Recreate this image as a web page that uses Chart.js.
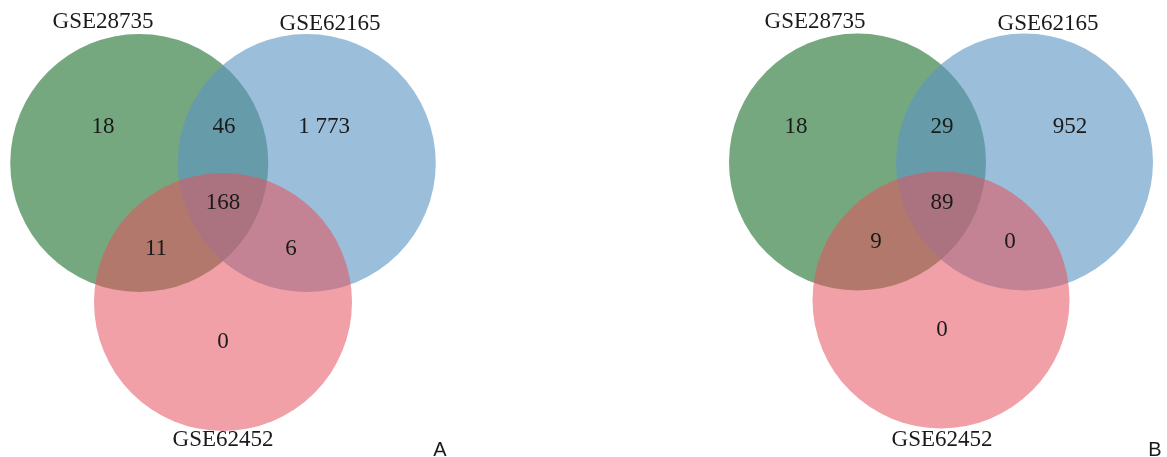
<!DOCTYPE html>
<html>
<head>
<meta charset="utf-8">
<script src="https://cdn.jsdelivr.net/npm/chart.js@4.4.1/dist/chart.umd.min.js"></script>
<style>
  html, body { margin: 0; padding: 0; background: #ffffff; }
  #wrap { position: relative; width: 1167px; height: 457px; }
</style>
</head>
<body>
<div id="wrap"><canvas id="venn"></canvas></div>
<script>
// Gene sets compared in each panel
const setNames = ['GSE28735', 'GSE62165', 'GSE62452'];
const panelNames = ['A', 'B'];

// Region counts per panel, in the order:
// only-28735, 28735∩62165, only-62165, all three, 28735∩62452, 62165∩62452, only-62452
const regionKeys = ['g', 'gb', 'b', 'gbp', 'gp', 'bp', 'p'];
const countsA = [18, 46, 1773, 168, 11, 6, 0];
const countsB = [18, 29, 952, 89, 9, 0, 0];

// Fill colours of the three sets (translucent so overlaps blend)
const setColors = ['rgba(27,110,43,0.6)', 'rgba(91,148,194,0.61)', 'rgba(228,82,93,0.55)'];

// ---- layout (canvas coordinates, y grows downward) ----
const panelLayout = [
  { cx: 223, topY: 163, botY: 302, dx: 83.75, r: 129,
    labels: { g: [-120, 127], gb: [1, 127], b: [101, 127], gbp: [0, 203], gp: [-67, 249], bp: [68, 249], p: [0, 342] },
    names: [[-120, 22], [107, 24], [0, 440]], letter: [217, 450] },
  { cx: 941, topY: 162, botY: 300, dx: 83.5, r: 128.5,
    labels: { g: [-145, 127], gb: [1, 127], b: [129, 127], gbp: [1, 203], gp: [-65, 242], bp: [69, 242], p: [1, 330] },
    names: [[-126, 22], [107, 24], [1, 440]], letter: [214, 450] }
];

const allCounts = [countsA, countsB];

function fmt(n) {
  // thousands separator written as a space
  return String(n).replace(/\B(?=(\d{3})+(?!\d))/g, ' ');
}

// One bubble dataset per set; each holds that set's circle in both panels.
// Higher "order" is painted first, so GSE28735 sits at the bottom.
const datasets = setNames.map((name, si) => ({
  label: name,
  data: panelLayout.map(L => ({
    x: si === 0 ? L.cx - L.dx : si === 1 ? L.cx + L.dx : L.cx,
    y: si === 2 ? L.botY : L.topY,
    r: L.r
  })),
  order: 3 - si,
  clip: false,
  backgroundColor: setColors[si],
  borderWidth: 0,
  hoverBorderWidth: 0,
  hoverRadius: 0
}));

const textPlugin = {
  id: 'vennText',
  afterDatasetsDraw(chart) {
    const ctx = chart.ctx;
    const xs = chart.scales.x, ys = chart.scales.y;
    ctx.save();
    ctx.textAlign = 'center';
    ctx.textBaseline = 'middle';
    panelLayout.forEach((L, pi) => {
      const counts = allCounts[pi];
      ctx.fillStyle = '#1a1a1a';
      ctx.font = '23px "Liberation Serif", "Times New Roman", serif';
      regionKeys.forEach((k, ri) => {
        const [ox, y] = L.labels[k];
        ctx.fillText(fmt(counts[ri]), xs.getPixelForValue(L.cx + ox), ys.getPixelForValue(y));
      });
      setNames.forEach((nm, si) => {
        const [ox, y] = L.names[si];
        ctx.fillText(nm, xs.getPixelForValue(L.cx + ox), ys.getPixelForValue(y));
      });
      ctx.font = '20px "Liberation Sans", Arial, sans-serif';
      ctx.fillText(panelNames[pi], xs.getPixelForValue(L.cx + L.letter[0]), ys.getPixelForValue(L.letter[1]));
    });
    ctx.restore();
  }
};

new Chart(document.getElementById('venn'), {
  type: 'bubble',
  data: { datasets },
  options: {
    responsive: true,
    maintainAspectRatio: false,
    animation: false,
    events: [],
    layout: { padding: 0, autoPadding: false },
    scales: {
      x: { type: 'linear', min: 0, max: 1167, display: false },
      y: { type: 'linear', min: 0, max: 457, reverse: true, display: false }
    },
    plugins: {
      legend: { display: false },
      tooltip: { enabled: false }
    },
    elements: { point: { borderWidth: 0 } }
  },
  plugins: [textPlugin]
});
</script>
</body>
</html>
